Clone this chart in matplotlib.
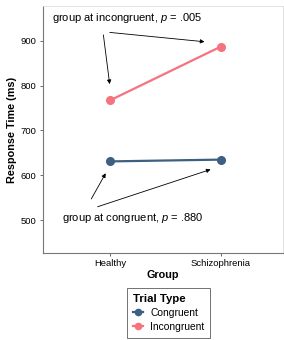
import matplotlib.pyplot as plt
from matplotlib.lines import Line2D

plt.rcParams['font.family'] = ['Liberation Sans', 'DejaVu Sans']
plt.rcParams['mathtext.fontset'] = 'custom'
plt.rcParams['mathtext.it'] = 'Liberation Sans:italic'
plt.rcParams['mathtext.rm'] = 'Liberation Sans'

groups = ['Healthy', 'Schizophrenia']
congruent = [631, 635]
incongruent = [767, 887]
trial_types = ['Congruent', 'Incongruent']
colors = ['#3d5f80', '#f5737f']
yticks = [500, 600, 700, 800, 900]

fig = plt.figure(figsize=(2.84, 3.4), dpi=100)
ax = fig.add_axes([0.151, 0.256, 0.846, 0.726])

x = [1, 2]
for vals, c, lab in zip([congruent, incongruent], colors, trial_types):
    ax.plot(x, vals, color=c, lw=1.6, marker='o', ms=5.5, label=lab)

ax.set_xlim(0.395, 2.56)
ax.set_ylim(427, 977)
ax.set_xticks(x)
ax.set_xticklabels(groups)
ax.set_yticks(yticks)
ax.tick_params(labelsize=6.8, length=2.5, width=0.6, color='#555555', pad=2)
ax.set_xlabel('Group', fontsize=7.8, fontweight='bold', labelpad=1)
ax.set_ylabel('Response Time (ms)', fontsize=7.8, fontweight='bold', labelpad=3)

for side in ['left', 'bottom']:
    ax.spines[side].set_color('#777777')
    ax.spines[side].set_linewidth(0.8)
for side in ['top', 'right']:
    ax.spines[side].set_color('#dddddd')
    ax.spines[side].set_linewidth(0.6)

arrow = dict(arrowstyle='-|>', color='black', lw=0.6, mutation_scale=6)
ax.text(1.158, 950, 'group at incongruent,$\\ p$ = .005', fontsize=8,
        ha='center', va='center')
ax.annotate('', xy=(1.876, 897), xytext=(0.973, 919), arrowprops=arrow)
ax.annotate('', xy=(1.0, 797), xytext=(0.937, 919), arrowprops=arrow)

ax.text(1.208, 504, 'group at congruent,$\\ p$ = .880', fontsize=8,
        ha='center', va='center')
ax.annotate('', xy=(0.973, 610), xytext=(0.819, 542), arrowprops=arrow)
ax.annotate('', xy=(1.93, 615), xytext=(0.864, 528), arrowprops=arrow)

handles = [Line2D([], [], color=c, lw=1.6, marker='o', ms=4.5) for c in colors]
leg = fig.legend(handles, trial_types, title='Trial Type', loc='upper left',
                 bbox_to_anchor=(127 / 284, 1 - 288 / 340), fontsize=7.4,
                 title_fontproperties={'weight': 'bold', 'size': 8.2},
                 frameon=True, fancybox=False, handlelength=1.0,
                 handletextpad=0.7, borderpad=0.55, labelspacing=0.4,
                 borderaxespad=0)
leg.get_frame().set_edgecolor('#333333')
leg.get_frame().set_linewidth(0.6)
leg._legend_box.align = 'left'

fig.savefig('out.png', dpi=100)
